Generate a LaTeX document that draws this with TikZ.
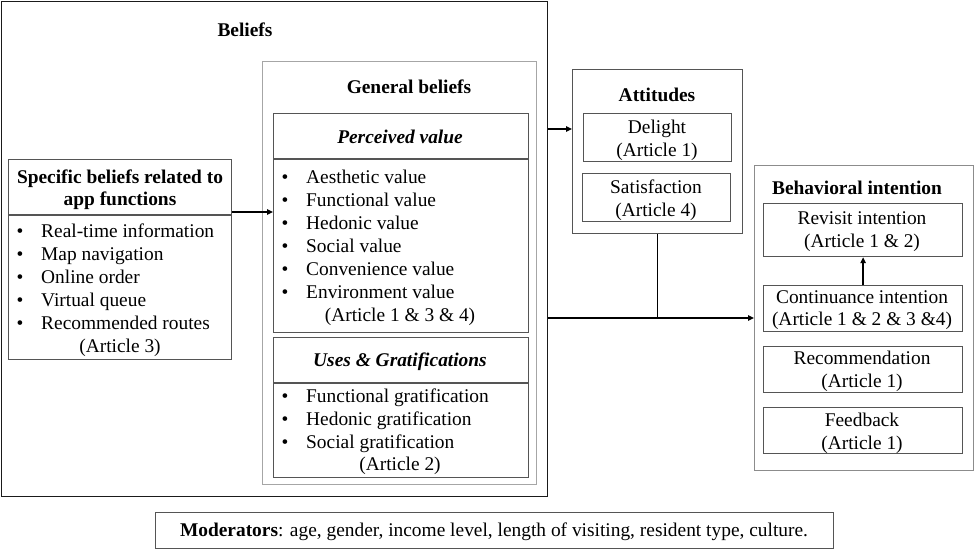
\documentclass[tikz,border=0pt]{standalone}
\usepackage{fontspec}
\setmainfont{Liberation Serif}
\usetikzlibrary{arrows.meta}

\definecolor{frameblack}{HTML}{1A1A1A}
\definecolor{innergray}{HTML}{555555}
\definecolor{softgray}{HTML}{A6A6A6}
\definecolor{midgray}{HTML}{8C8C8C}

\begin{document}
\begin{tikzpicture}[x=1pt,y=-1pt,
  frame/.style={draw=innergray, line width=1.2pt, anchor=north west, inner sep=0pt},
  txt/.style={font=\fontsize{19.4}{23}\selectfont, inner sep=0pt, text height=13.6pt, text depth=4.2pt, yshift=-1.8pt},
  head/.style={txt, font=\fontsize{19.4}{23}\selectfont\bfseries},
  ihead/.style={txt, font=\fontsize{19.4}{23}\selectfont\bfseries\itshape},
  item/.style={txt, anchor=west},
  bul/.style={txt},
  arr/.style={draw=black, line width=1.3pt, -{Triangle[length=6pt,width=5.5pt]}},
  link/.style={draw=black, line width=1.3pt}
]
\useasboundingbox (0,0) rectangle (974,549);

% ---------- Beliefs ----------
\node[frame, draw=frameblack, minimum width=546pt, minimum height=495pt] (beliefs) at (1,1) {};
\node[head] (beliefsT) at (245,30) {Beliefs};

% specific beliefs
\node[frame, minimum width=223pt, minimum height=200pt] (sb) at (8,159) {};
\draw[innergray, line width=1.2pt] (sb.west |- 0,215) -- (sb.east |- 0,215);
\node[head] (sbT1) at (120,177) {Specific beliefs related to};
\node[head] (sbT2) at (120,199) {app functions};
\foreach \t [count=\i] in {Real-time information, Map navigation, Online order, Virtual queue, Recommended routes}{
  \node[bul] (sbb\i) at (20,208+23*\i) {•};
  \node[item] (sbi\i) at (41,208+23*\i) {\t};
}
\node[txt] (sbA) at (120,346) {(Article 3)};

% general beliefs
\node[frame, draw=softgray, line width=1.4pt, minimum width=274pt, minimum height=423pt] (gb) at (262,61) {};
\node[head] (gbT) at (409,87) {General beliefs};

% perceived value
\node[frame, minimum width=255pt, minimum height=219pt] (pv) at (273,113) {};
\draw[innergray, line width=1.2pt] (pv.west |- 0,159) -- (pv.east |- 0,159);
\node[ihead] (pvT) at (400,137) {Perceived value};
\foreach \t [count=\i] in {Aesthetic value, Functional value, Hedonic value, Social value, Convenience value, Environment value}{
  \node[bul] (pvb\i) at (285,154+23*\i) {•};
  \node[item] (pvi\i) at (306,154+23*\i) {\t};
}
\node[txt] (pvA) at (400,315) {(Article 1 \& 3 \& 4)};

% uses & gratifications
\node[frame, minimum width=255pt, minimum height=140pt] (ug) at (273,337) {};
\draw[innergray, line width=1.2pt] (ug.west |- 0,383) -- (ug.east |- 0,383);
\node[ihead] (ugT) at (400,360) {Uses \& Gratifications};
\foreach \t [count=\i] in {Functional gratification, Hedonic gratification, Social gratification}{
  \node[bul] (ugb\i) at (285,373+23*\i) {•};
  \node[item] (ugi\i) at (306,373+23*\i) {\t};
}
\node[txt] (ugA) at (400,464) {(Article 2)};

% ---------- Attitudes ----------
\node[frame, minimum width=170pt, minimum height=164pt] (att) at (572,69) {};
\node[head] (attT) at (657,95) {Attitudes};
\node[frame, minimum width=148pt, minimum height=48pt] (del) at (583,113) {};
\node[txt] (delT1) at (657,127) {Delight};
\node[txt] (delT2) at (657,150) {(Article 1)};
\node[frame, minimum width=148pt, minimum height=48pt] (sat) at (582,173) {};
\node[txt] (satT1) at (656,187) {Satisfaction};
\node[txt] (satT2) at (656,210) {(Article 4)};

% ---------- Behavioral intention ----------
\node[frame, draw=midgray, minimum width=219pt, minimum height=305pt] (bi) at (754,165) {};
\node[head] (biT) at (857,188) {Behavioral intention};
\node[frame, minimum width=199pt, minimum height=53pt] (rev) at (763,203) {};
\node[txt] (revT1) at (862,218) {Revisit intention};
\node[txt] (revT2) at (862,241) {(Article 1 \& 2)};
\node[frame, minimum width=199pt, minimum height=46pt] (con) at (763,285) {};
\node[txt] (conT1) at (862,297) {Continuance intention};
\node[txt] (conT2) at (862,319) {(Article 1 \& 2 \& 3 \&4)};
\node[frame, minimum width=199pt, minimum height=46pt] (rec) at (763,346) {};
\node[txt] (recT1) at (862,358) {Recommendation};
\node[txt] (recT2) at (862,381) {(Article 1)};
\node[frame, minimum width=199pt, minimum height=46pt] (fb) at (763,407) {};
\node[txt] (fbT1) at (862,420) {Feedback};
\node[txt] (fbT2) at (862,443) {(Article 1)};

% ---------- Moderators ----------
\node[frame, minimum width=678pt, minimum height=36pt] (mod) at (155,512) {};
\node[txt] (modT) at (494,530) {\textbf{Moderators}: age, gender, income level, length of visiting, resident type, culture.};

% ---------- connectors ----------
\coordinate (y1) at (0,212);
\coordinate (y2) at (0,129);
\coordinate (y3) at (0,318);
\draw[arr] (sb.east |- y1) -- (pv.west |- y1);
\draw[arr] (beliefs.east |- y2) -- (att.west |- y2);
\draw[arr] (beliefs.east |- y3) -- (bi.west |- y3);
\draw[link] (att.south) -- (att.south |- y3);
\draw[arr] (con.north) -- (rev.south);
\end{tikzpicture}
\end{document}
